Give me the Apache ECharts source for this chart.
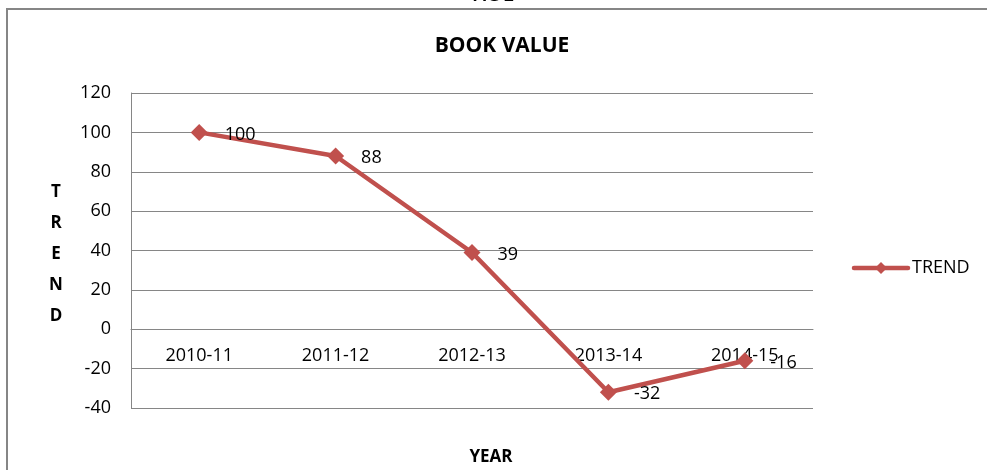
<!DOCTYPE html>
<html>
<head>
<meta charset="utf-8">
<script src="https://cdn.jsdelivr.net/npm/echarts@6/dist/echarts.min.js"></script>
<style>
  html, body { margin: 0; padding: 0; background: #fff; }
  #chart { width: 987px; height: 470px; }
</style>
</head>
<body>
<div id="chart"></div>
<script>
// Book value trend by financial year
const years = ['2010-11', '2011-12', '2012-13', '2013-14', '2014-15'];
const trend = [100, 88, 39, -32, -16];
const yTicks = { min: -40, max: 120, step: 20 };

const FONT = '"Open Sans", "Noto Sans", sans-serif';
const RED = '#C0504D';
const GRID = '#868686';

const chart = echarts.init(document.getElementById('chart'));
chart.setOption({
  animation: false,
  backgroundColor: '#fff',
  grid: { left: 131, right: 174, top: 93, bottom: 62 },
  xAxis: {
    type: 'category',
    data: years,
    boundaryGap: true,
    // category axis sits on the zero line of the value axis
    offset: -79,
    axisLine: { show: true, onZero: false, lineStyle: { color: GRID, width: 1 } },
    axisTick: { show: false },
    axisLabel: { color: '#000', fontFamily: FONT, fontSize: 18, margin: 18 },
    splitLine: { show: false }
  },
  yAxis: {
    type: 'value',
    min: yTicks.min,
    max: yTicks.max,
    interval: yTicks.step,
    axisLine: { show: true, lineStyle: { color: GRID, width: 1 } },
    axisTick: { show: false },
    axisLabel: { color: '#000', fontFamily: FONT, fontSize: 18, margin: 20 },
    splitLine: { show: true, lineStyle: { color: GRID, width: 1 } }
  },
  series: [{
    name: 'TREND',
    type: 'line',
    data: trend,
    symbol: 'diamond',
    symbolSize: 17,
    lineStyle: { color: RED, width: 4.5 },
    itemStyle: { color: RED },
    label: {
      show: true,
      position: 'right',
      distance: 17,
      offset: [0, 2],
      color: '#000',
      fontFamily: FONT,
      fontSize: 18
    },
    z: 3
  }],
  graphic: [
    // chart frame
    { type: 'rect', shape: { x: 7, y: 9, width: 1000, height: 500 },
      style: { fill: 'none', stroke: GRID, lineWidth: 2 }, silent: true, z: -1 },
    { type: 'text', x: 493, y: -4,
      style: { text: 'FIG 2', font: 'bold 17px ' + FONT, fill: '#000', align: 'center', verticalAlign: 'middle' } },
    { type: 'text', x: 502, y: 46,
      style: { text: 'BOOK VALUE', font: 'bold 21px ' + FONT, fill: '#000', align: 'center', verticalAlign: 'middle' } },
    { type: 'text', x: 56, y: 254,
      style: { text: 'T\nR\nE\nN\nD', font: 'bold 17px ' + FONT, fill: '#000', align: 'center', verticalAlign: 'middle', lineHeight: 31 } },
    { type: 'text', x: 491, y: 457,
      style: { text: 'YEAR', font: 'bold 17px ' + FONT, fill: '#000', align: 'center', verticalAlign: 'middle' } },
    // legend
    { type: 'line', shape: { x1: 854, y1: 268, x2: 908, y2: 268 },
      style: { stroke: RED, lineWidth: 4.5, lineCap: 'round' } },
    { type: 'polygon', shape: { points: [[881, 262], [887, 268], [881, 274], [875, 268]] },
      style: { fill: RED } },
    { type: 'text', x: 912, y: 268,
      style: { text: 'TREND', font: '18px ' + FONT, fill: '#000', verticalAlign: 'middle' } }
  ]
});
</script>
</body>
</html>
